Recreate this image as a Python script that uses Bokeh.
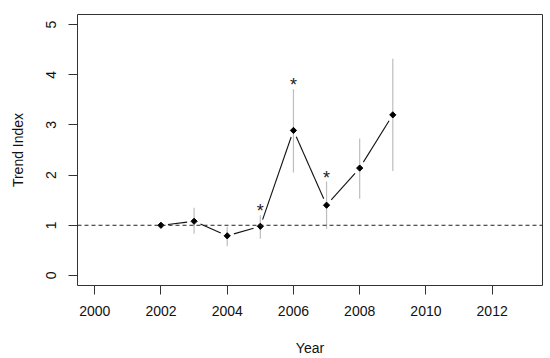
import math
from bokeh.plotting import figure
from bokeh.models import Range1d, Span, FixedTicker
from bokeh.core.properties import value
from bokeh.embed import file_html
from bokeh.resources import INLINE

# ---- data ----
years = [2002, 2003, 2004, 2005, 2006, 2007, 2008, 2009]
trend = [1.00, 1.08, 0.79, 0.98, 2.89, 1.40, 2.14, 3.20]
lower = [1.00, 0.83, 0.58, 0.73, 2.05, 0.93, 1.53, 2.08]
upper = [1.00, 1.35, 0.97, 1.20, 3.71, 1.87, 2.73, 4.32]
signif = [False, False, False, True, True, True, False, False]
x_ticks = [2000, 2002, 2004, 2006, 2008, 2010, 2012]
y_ticks = [0, 1, 2, 3, 4, 5]
reference_level = 1.0

FONT = "Liberation Sans"
X0, X1 = 1999.48, 2013.52
Y0, Y1 = -0.2, 5.2
W, H = 550, 358
ML, MR, MT, MB = 77, 8, 14, 73

p = figure(width=W, height=H, output_backend="svg", toolbar_location=None,
           x_range=Range1d(X0, X1), y_range=Range1d(Y0, Y1))
p.min_border_left = ML
p.min_border_right = MR
p.min_border_top = MT
p.min_border_bottom = MB
p.background_fill_color = "white"
p.border_fill_color = "white"
p.outline_line_color = "#333333"
p.outline_line_width = 1
p.xgrid.grid_line_color = None
p.ygrid.grid_line_color = None

for ax in (p.xaxis[0], p.yaxis[0]):
    ax.axis_line_color = None
    ax.minor_tick_line_color = None
    ax.major_tick_line_color = "#333333"
    ax.major_tick_out = 9
    ax.major_tick_in = 0
    ax.major_label_text_font = FONT
    ax.major_label_text_font_size = "14px"
    ax.major_label_text_color = "#111111"
    ax.axis_label_text_font = FONT
    ax.axis_label_text_font_size = "14px"
    ax.axis_label_text_font_style = "normal"
    ax.axis_label_text_color = "#111111"

p.xaxis.ticker = FixedTicker(ticks=x_ticks)
p.yaxis.ticker = FixedTicker(ticks=y_ticks)
p.yaxis.major_label_orientation = "vertical"
p.xaxis.axis_label = "Year"
p.yaxis.axis_label = "Trend Index"
p.xaxis.major_label_standoff = 11
p.xaxis.axis_label_standoff = 21
p.yaxis.major_label_standoff = 12
p.yaxis.axis_label_standoff = 18

# dashed reference line
p.add_layout(Span(location=reference_level, dimension="width",
                  line_color="#222222", line_dash="4 3", line_width=1))

# error bars
p.segment(x0=years, y0=lower, x1=years, y1=upper, line_color="#BDBDBD", line_width=1.2)

# connecting lines with gaps (R type="b")
fw = W - ML - MR
fh = H - MT - MB
sx = fw / (X1 - X0)
sy = fh / (Y1 - Y0)
gap = 7.0
gx0, gy0, gx1, gy1 = [], [], [], []
for i in range(len(years) - 1):
    dxp = (years[i + 1] - years[i]) * sx
    dyp = (trend[i + 1] - trend[i]) * sy
    L = math.hypot(dxp, dyp)
    if L <= 2 * gap:
        continue
    f = gap / L
    gx0.append(years[i] + f * (years[i + 1] - years[i]))
    gy0.append(trend[i] + f * (trend[i + 1] - trend[i]))
    gx1.append(years[i + 1] - f * (years[i + 1] - years[i]))
    gy1.append(trend[i + 1] - f * (trend[i + 1] - trend[i]))
p.segment(x0=gx0, y0=gy0, x1=gx1, y1=gy1, line_color="#111111", line_width=1.1)

# points
p.scatter(x=years, y=trend, marker="square", angle=math.pi / 4, size=4.4,
          fill_color="black", line_color="black")

# significance asterisks
sx_list = [y for y, s in zip(years, signif) if s]
sy_list = [u for u, s in zip(upper, signif) if s]
p.text(x=sx_list, y=sy_list, text=["*"] * len(sx_list), text_align="center",
       text_baseline="middle", y_offset=-4, text_font=value(FONT),
       text_font_size="18px", text_color="#222222")

open("out.html", "w").write(file_html(p, INLINE))
